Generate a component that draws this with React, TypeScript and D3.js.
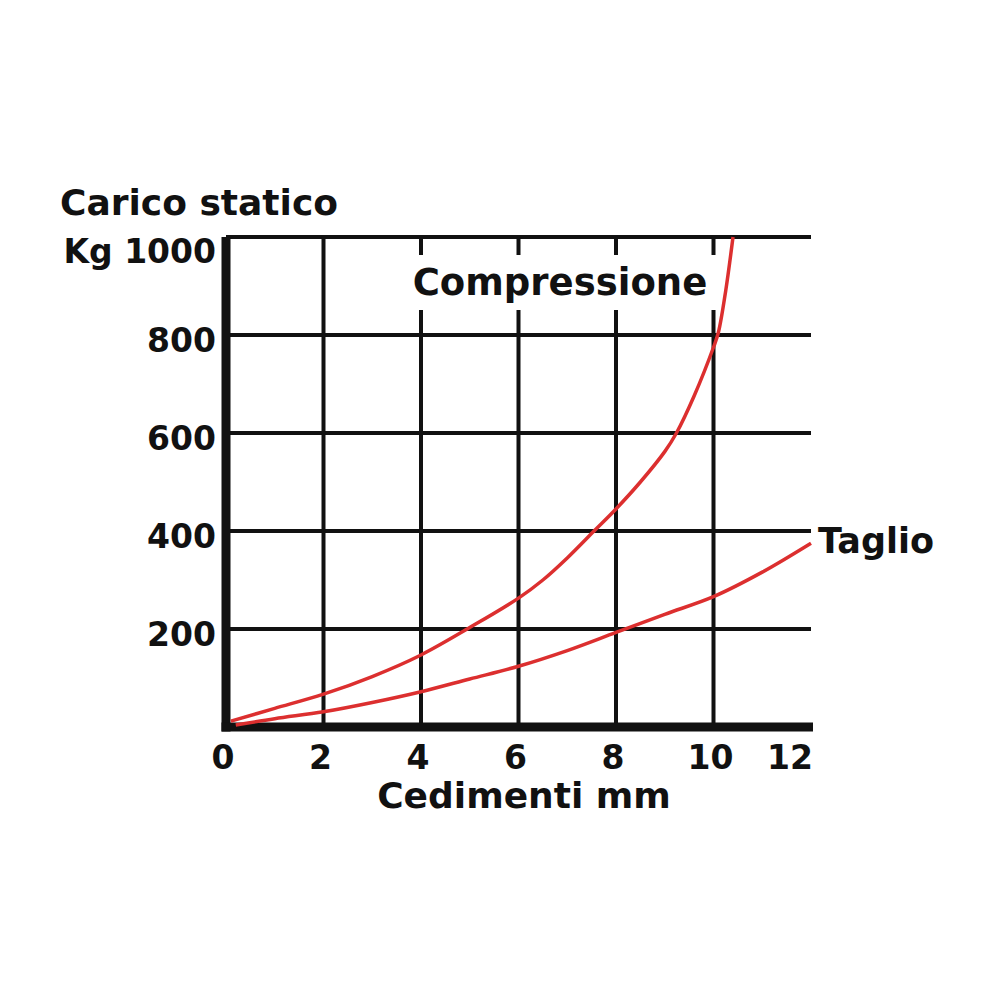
import * as d3 from 'd3'

const X_TICKS = [0, 2, 4, 6, 8, 10, 12]
const Y_TICKS = [200, 400, 600, 800, 1000]
const Y_TICK_LABELS = ['200', '400', '600', '800', 'Kg 1000']

// Cedimenti (mm) -> carico (Kg)
const COMPRESSIONE: [number, number][] = [
  [0.1, 12], [1, 38], [2, 67], [3, 103], [4, 147], [5, 203], [6, 263],
  [6.5, 300], [7, 345], [7.55, 400], [8, 445], [8.5, 500], [9, 562],
  [9.24, 600], [9.6, 675], [10, 775], [10.1, 805], [10.25, 890], [10.4, 1000],
]
const TAGLIO: [number, number][] = [
  [0.2, 4], [1, 17], [2, 31], [3, 50], [4, 72], [5, 98], [6, 124],
  [7, 156], [8, 193], [9, 230], [10, 266], [11, 316], [12, 375],
]

const FONT = '"DejaVu Sans", sans-serif'
const INK = '#111'
const RED = '#dc2f2f'

export default function App() {
  const x = d3.scaleLinear().domain([0, 12]).range([226, 811])
  const y = d3.scaleLinear().domain([0, 1000]).range([727, 237])

  const line = d3
    .line<[number, number]>()
    .x((d) => x(d[0]))
    .y((d) => y(d[1]))
    .curve(d3.curveCatmullRom.alpha(0.5))

  const x0 = x(0)
  const x1 = x(12)
  const y0 = y(0)
  const y1 = y(1000)

  return (
    <svg
      width={1000}
      height={1000}
      style={{ position: 'absolute', left: 0, top: 0, background: '#fff' }}
    >
      {/* grid */}
      <g stroke={INK} strokeWidth={4}>
        {Y_TICKS.map((t) => (
          <line key={'h' + t} x1={x0} x2={x1} y1={y(t)} y2={y(t)} />
        ))}
        {X_TICKS.filter((t) => t > 0 && t < 12).map((t) => (
          <line key={'v' + t} x1={x(t)} x2={x(t)} y1={y1} y2={y0} />
        ))}
      </g>

      {/* label box over the grid */}
      <rect x={410} y={255} width={310} height={55} fill="#fff" />
      <text
        x={560}
        y={295}
        textAnchor="middle"
        fontFamily={FONT}
        fontWeight="bold"
        fontSize={37}
        fill={INK}
      >
        Compressione
      </text>

      {/* axes */}
      <line x1={x0} x2={x0} y1={y1} y2={y0 + 4.5} stroke={INK} strokeWidth={9} />
      <line x1={x0 - 4.5} x2={x1 + 2} y1={y0} y2={y0} stroke={INK} strokeWidth={9} />

      {/* curves */}
      <path d={line(COMPRESSIONE) ?? ''} fill="none" stroke={RED} strokeWidth={3.5} />
      <path d={line(TAGLIO) ?? ''} fill="none" stroke={RED} strokeWidth={3.5} />

      {/* y tick labels */}
      <g fontFamily={FONT} fontWeight="bold" fontSize={33} fill={INK} textAnchor="end">
        {Y_TICKS.map((t, i) => (
          <text key={t} x={216} y={y(t) + (t === 1000 ? 26 : 17)}>
            {Y_TICK_LABELS[i]}
          </text>
        ))}
      </g>

      {/* x tick labels */}
      <g fontFamily={FONT} fontWeight="bold" fontSize={33} fill={INK}>
        {X_TICKS.map((t, i) => (
          <text
            key={t}
            x={i === X_TICKS.length - 1 ? x(t) + 2 : x(t) - 3}
            y={769}
            textAnchor={i === X_TICKS.length - 1 ? 'end' : 'middle'}
          >
            {t}
          </text>
        ))}
      </g>

      {/* titles */}
      <text x={60} y={215} fontFamily={FONT} fontWeight="bold" fontSize={36} fill={INK}>
        Carico statico
      </text>
      <text
        x={524}
        y={808}
        textAnchor="middle"
        fontFamily={FONT}
        fontWeight="bold"
        fontSize={36}
        fill={INK}
      >
        Cedimenti mm
      </text>
      <text x={818} y={553} fontFamily={FONT} fontWeight="bold" fontSize={35} fill={INK}>
        Taglio
      </text>
    </svg>
  )
}
